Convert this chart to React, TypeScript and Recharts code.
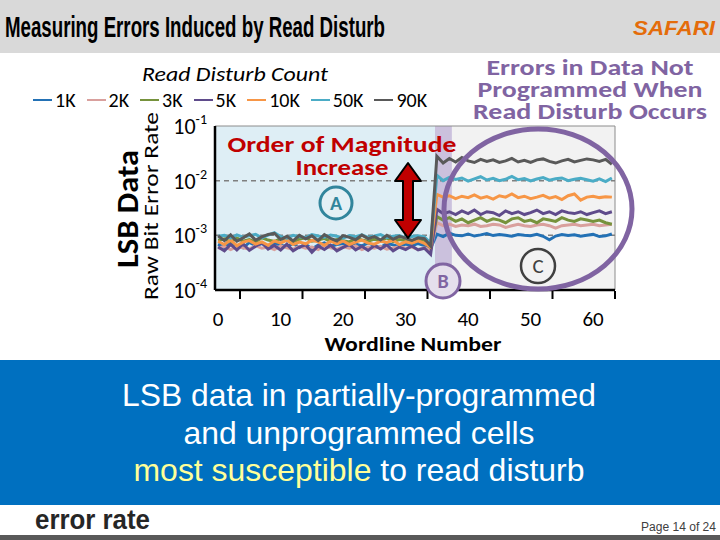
import React from "react";
import { LineChart, Line, XAxis, YAxis, ReferenceArea, ReferenceLine, Legend } from "recharts";

const FONT = "Carlito, Lato, 'Open Sans', sans-serif";
const ARIAL = "'Liberation Sans', Arial, sans-serif";

const WORDLINES = Array.from({ length: 64 }, (_, i) => i);
const X_TICKS = [0, 10, 20, 30, 40, 50, 60];
const X_MARKS = [3.5, 13.5, 23.5, 33.5, 43.5, 53.5, 63.5];
const Y_TICKS = [1e-4, 1e-3, 1e-2, 1e-1];

// raw bit error rate per wordline, in units of 1e-4
const RBER_1K = [
  6.9, 6.0, 7.3, 6.4, 5.9, 7.4, 6.5, 7.1, 6.1, 7.3, 6.6, 6.2, 7.1, 6.0, 6.9, 5.6, 6.6, 7.3, 6.3, 6.8,
  7.1, 6.1, 6.9, 6.4, 7.3, 6.5, 6.0, 7.1, 6.7, 6.2, 6.9, 6.4, 7.1, 6.5, 5.8,
  10.5, 9.5, 11, 10, 9.8, 10.6, 9.7, 10.2, 10.8, 9.9, 10.4, 10, 9.6, 10.3, 10.0, 9.8, 10.4, 9.6, 8.3, 9.7,
  10.3, 9.9, 10.2, 9.6, 10, 10.4, 9.5, 9.8, 10.6,
];
const RBER_2K = [
  5.8, 6.3, 5.5, 6.2, 5.9, 5.6, 6.5, 5.8, 6.1, 5.5, 6.4, 5.9, 5.6, 6.3, 5.8, 6.1, 5.5, 6.5, 5.9, 5.6,
  6.2, 5.8, 6.4, 5.5, 6.1, 5.8, 6.3, 5.6, 5.9, 6.2, 5.8, 6.1, 5.5, 5.9, 5.4,
  17, 15, 16, 14.5, 15.5, 15, 16, 14.5, 15, 16, 15.5, 14, 15, 16, 15, 14.5, 15.5, 16, 15, 13.5,
  15, 15.5, 16, 15, 15.5, 16, 15, 15.5, 16,
];
const RBER_3K = [
  8.1, 8.6, 7.5, 8.9, 7.8, 8.4, 7.6, 9.0, 8.2, 7.7, 8.7, 8.0, 7.5, 8.5, 9.1, 7.8, 8.2, 8.8, 7.7, 8.4,
  8.0, 7.6, 8.7, 8.2, 7.8, 8.5, 8.0, 9.0, 7.7, 8.4, 8.0, 7.8, 8.5, 8.1, 6.0,
  22, 19, 21, 18, 20, 17, 19, 21, 18, 20, 19, 17, 20, 21, 18, 19, 17, 20, 19, 18,
  21, 19, 18, 20, 19, 18, 19, 17, 16,
];
const RBER_5K = [
  6.1, 5.2, 6.8, 5.4, 7.0, 5.3, 6.3, 7.3, 5.6, 6.5, 5.4, 6.9, 5.2, 6.1, 6.7, 4.9, 6.4, 5.5, 6.6, 5.2,
  6.0, 6.8, 5.4, 6.3, 5.3, 6.5, 5.6, 6.7, 5.2, 6.1, 5.5, 6.4, 5.4, 5.8, 4.5,
  30, 25, 27, 24, 28, 25, 29, 24, 27, 26, 23, 28, 25, 27, 24, 26, 29, 25, 27, 24,
  28, 26, 25, 27, 24, 26, 28, 25, 27,
];
const RBER_10K = [
  7.8, 6.8, 8.2, 6.5, 7.5, 8.0, 6.9, 7.6, 6.6, 7.9, 7.2, 8.2, 6.8, 7.5, 7.0, 8.1, 7.6, 6.6, 7.8, 7.0,
  7.9, 6.8, 7.5, 8.2, 7.2, 6.9, 7.8, 7.4, 8.1, 6.8, 7.6, 7.2, 7.9, 7.1, 6.1,
  56, 50, 53, 47, 52, 49, 55, 48, 51, 46, 53, 50, 57, 49, 52, 47, 50, 54, 48, 51,
  45, 53, 57, 44, 50, 52, 49, 51, 50,
];
const RBER_50K = [
  9.6, 10.0, 8.9, 10.2, 9.3, 9.8, 10.4, 9.0, 10.1, 11.2, 9.5, 8.9, 10.0, 9.4, 9.1, 10.3, 9.7, 9.2, 10.1, 9.6,
  8.9, 9.9, 9.4, 10.2, 9.2, 9.7, 10.3, 9.1, 9.6, 9.9, 9.0, 9.5, 9.8, 9.4, 7.2,
  125, 100, 115, 105, 112, 98, 108, 118, 103, 110, 100, 106, 120, 104, 109, 99, 107, 114, 102, 108,
  112, 100, 106, 111, 104, 98, 108, 96, 112,
];
const RBER_90K = [
  9.8, 8.0, 10.2, 7.8, 9.0, 10.6, 8.2, 9.4, 10.4, 10.9, 8.4, 9.6, 7.9, 10.0, 8.6, 9.8, 8.0, 10.3, 8.8, 7.9,
  9.9, 9.2, 8.3, 10.1, 8.7, 9.5, 8.2, 10.0, 8.5, 9.6, 8.9, 8.1, 9.0, 8.7, 6.4,
  280, 210, 255, 220, 265, 230, 215, 245, 225, 240, 215, 230, 255, 220, 235, 215, 240, 250, 225, 210,
  230, 245, 220, 235, 250, 240, 225, 245, 200,
];

const SERIES = [
  { name: "1K", color: "#2371b5", values: RBER_1K },
  { name: "2K", color: "#d9a09d", values: RBER_2K },
  { name: "3K", color: "#76923c", values: RBER_3K },
  { name: "5K", color: "#5f4b8b", values: RBER_5K },
  { name: "10K", color: "#f79646", values: RBER_10K },
  { name: "50K", color: "#4bacc6", values: RBER_50K },
  { name: "90K", color: "#595959", values: RBER_90K },
];

// wordline ranges: programmed before disturb / partially programmed / not programmed
const PROGRAMMED_END = 34.7;
const PARTIAL_END = 37.4;

const rows = WORDLINES.map((wl) => {
  const r: any = { wl };
  SERIES.forEach((s) => (r[s.name] = s.values[wl] / 1e4));
  return r;
});

const PowTick = ({ x, y, payload }: any) => {
  const exp = Math.round(Math.log10(payload.value));
  return (
    <text x={x} y={y + 8} textAnchor="end" fontFamily={FONT} fontSize={22} fill="#000">
      10<tspan dy={-10} fontSize={14}>{exp}</tspan>
    </text>
  );
};

const WlTick = ({ x, y, payload }: any) => (
  <text x={x} y={y + 36} textAnchor="middle" fontFamily={FONT} fontSize={21} fill="#000">
    {payload.value}
  </text>
);

const NoTick = () => <g />;

const LegendRow = ({ payload }: any) => {
  const items = SERIES.map((s) => (payload || []).find((p: any) => p.value === s.name)).filter(Boolean);
  return (
    <div style={{ display: "flex", fontFamily: FONT, fontSize: 20, color: "#000", lineHeight: "22px" }}>
      {items.map((p: any) => (
        <span key={p.value} style={{ display: "flex", alignItems: "center", marginRight: 11 }}>
          <span style={{ display: "inline-block", width: 19, height: 2, background: p.color, marginRight: 3 }} />
          {p.value}
        </span>
      ))}
    </div>
  );
};

export default function App() {
  return (
    <div style={{ position: "absolute", left: 0, top: 0, width: 720, height: 540, background: "#fff", overflow: "hidden" }}>
      <div style={{ position: "absolute", left: 0, top: 0, width: 720, height: 53, background: "#d9d9d9" }} />

      <div style={{ position: "absolute", left: 0, top: 0 }}>
        <LineChart width={720} height={540} data={rows} margin={{ top: 126, right: 105, bottom: 212, left: 155 }}>
          <ReferenceArea x1={-0.5} x2={PROGRAMMED_END} y1={1e-4} y2={1e-1} fill="#deeef5" fillOpacity={1} stroke="none" />
          <ReferenceArea x1={PARTIAL_END} x2={63.5} y1={1e-4} y2={1e-1} fill="#f2f2f2" fillOpacity={1} stroke="none" />
          <ReferenceArea x1={PROGRAMMED_END} x2={PARTIAL_END} y1={1e-4} y2={1e-1} fill="#cbc1dd" fillOpacity={1} stroke="none" />
          <ReferenceArea x1={-0.5} x2={63.5} y1={1e-4} y2={1e-1} fill="none" stroke="#8c8c8c" strokeWidth={1} />
          <ReferenceLine y={1e-2} stroke="#7f7f7f" strokeWidth={1.5} strokeDasharray="5 4" />
          <ReferenceLine y={1e-3} stroke="#7f7f7f" strokeWidth={1.5} strokeDasharray="5 4" />
          <XAxis
            dataKey="wl"
            type="number"
            domain={[-0.5, 63.5]}
            ticks={X_TICKS}
            tick={WlTick}
            tickLine={false}
            axisLine={{ stroke: "#000", strokeWidth: 2.5 }}
            tickSize={0}
            tickMargin={0}
            interval={0}
            height={1}
          />
          <XAxis
            xAxisId="marks"
            dataKey="wl"
            type="number"
            domain={[-0.5, 63.5]}
            ticks={X_MARKS}
            tick={NoTick}
            tickSize={8}
            tickLine={{ stroke: "#000", strokeWidth: 2 }}
            axisLine={false}
            interval={0}
            height={37}
          />
          <YAxis
            scale="log"
            domain={[1e-4, 1e-1]}
            ticks={Y_TICKS}
            allowDataOverflow
            tick={PowTick}
            tickLine={false}
            axisLine={{ stroke: "#000", strokeWidth: 2.5 }}
            width={60}
          />
          <Legend
            layout="horizontal"
            verticalAlign="middle"
            align="center"
            content={LegendRow}
            wrapperStyle={{ position: "absolute", left: 33, top: 89, width: 440, height: 24 }}
          />
          {SERIES.map((s) => (
            <Line
              key={s.name}
              dataKey={s.name}
              name={s.name}
              stroke={s.color}
              strokeWidth={3}
              dot={false}
              type="linear"
              isAnimationActive={false}
            />
          ))}
        </LineChart>
      </div>

      <svg width={720} height={540} style={{ position: "absolute", left: 0, top: 0, pointerEvents: "none" }}>
        <text x={5} y={37} fontFamily={ARIAL} fontWeight="bold" fontSize={29} fill="#000" textLength={380} lengthAdjust="spacingAndGlyphs">
          Measuring Errors Induced by Read Disturb
        </text>
        <text x={633} y={35} fontFamily={ARIAL} fontWeight="bold" fontStyle="italic" fontSize={21} fill="#e46c0a" textLength={82} lengthAdjust="spacingAndGlyphs">
          SAFARI
        </text>

        <text x={127} y={209} transform="rotate(-90 127 209)" textAnchor="middle" dominantBaseline="central" fontFamily={FONT} fontWeight="bold" fontSize={30} fill="#000" textLength={118} lengthAdjust="spacingAndGlyphs">
          LSB Data
        </text>
        <text x={151} y={206} transform="rotate(-90 151 206)" textAnchor="middle" dominantBaseline="central" fontFamily={FONT} fontSize={20} fill="#000" textLength={188} lengthAdjust="spacingAndGlyphs">
          Raw Bit Error Rate
        </text>
        <text x={413} y={351} textAnchor="middle" fontFamily={FONT} fontWeight="bold" fontSize={20} fill="#000" textLength={177} lengthAdjust="spacingAndGlyphs">
          Wordline Number
        </text>
        <text x={235} y={81} textAnchor="middle" fontFamily={FONT} fontStyle="italic" fontSize={21} fill="#000" textLength={186} lengthAdjust="spacingAndGlyphs">
          Read Disturb Count
        </text>

        <g fontFamily={FONT} fontWeight="bold" fontSize={22} fill="#8064a2" textAnchor="middle">
          <text x={590} y={75} textLength={207} lengthAdjust="spacingAndGlyphs">Errors in Data Not</text>
          <text x={590} y={97} textLength={225} lengthAdjust="spacingAndGlyphs">Programmed When</text>
          <text x={590} y={119} textLength={234} lengthAdjust="spacingAndGlyphs">Read Disturb Occurs</text>
        </g>
        <g fontFamily={FONT} fontWeight="bold" fontSize={22} fill="#c00000" textAnchor="middle">
          <text x={342} y={152} textLength={229} lengthAdjust="spacingAndGlyphs">Order of Magnitude</text>
          <text x={342} y={175} textLength={93} lengthAdjust="spacingAndGlyphs">Increase</text>
        </g>

        <path d="M408,163 L421,181 L413,181 L413,220 L421,220 L408,238 L395,220 L403,220 L403,181 L395,181 Z" fill="#c00000" stroke="#000" strokeWidth={2} strokeLinejoin="round" />

        <ellipse cx={538} cy={209} rx={94} ry={80} fill="none" stroke="#8064a2" strokeWidth={5} />

        <circle cx={336} cy={203} r={16} fill="#e4f0f5" stroke="#31859c" strokeWidth={3} />
        <text x={336} y={210} textAnchor="middle" fontFamily={FONT} fontWeight="bold" fontSize={20} fill="#31859c">A</text>

        <circle cx={443} cy={281} r={17} fill="#e5dfec" stroke="#8064a2" strokeWidth={3} />
        <text x={443} y={288} textAnchor="middle" fontFamily={FONT} fontWeight="bold" fontSize={20} fill="#8064a2">B</text>

        <circle cx={538} cy={266} r={17} fill="#f2f2f2" stroke="#404040" strokeWidth={2.5} />
        <text x={538} y={273} textAnchor="middle" fontFamily={FONT} fontSize={21} fill="#404040">C</text>

        <rect x={0} y={360} width={720} height={145} fill="#0070c0" />
        <g fontFamily={ARIAL} fontSize={32} fill="#fff" textAnchor="middle">
          <text x={359} y={406} textLength={474} lengthAdjust="spacingAndGlyphs">LSB data in partially-programmed</text>
          <text x={359} y={444} textLength={351} lengthAdjust="spacingAndGlyphs">and unprogrammed cells</text>
          <text x={359} y={481} textLength={451} lengthAdjust="spacingAndGlyphs">
            <tspan fill="#ffff99">most susceptible</tspan> to read disturb
          </text>
        </g>

        <text x={35} y={529} fontFamily={ARIAL} fontWeight="bold" fontSize={27} fill="#262626" textLength={115} lengthAdjust="spacingAndGlyphs">
          error rate
        </text>
        <text x={641} y={531} fontFamily={ARIAL} fontSize={12} fill="#404040" textLength={75} lengthAdjust="spacingAndGlyphs">
          Page 14 of 24
        </text>
        <rect x={0} y={535} width={720} height={5} fill="#595959" />
      </svg>
    </div>
  );
}
